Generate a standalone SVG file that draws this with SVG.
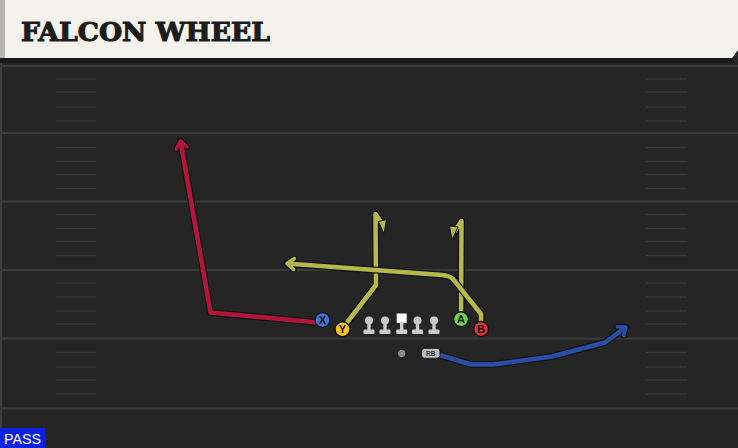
<svg xmlns="http://www.w3.org/2000/svg" width="738" height="448" viewBox="0 0 738 448">
<style>
.major{stroke:#3b3b3b;stroke-width:2}
.hash{stroke:#363636;stroke-width:1.5}
.outline{fill:none;stroke:#141414;stroke-width:7;stroke-linejoin:round;stroke-linecap:round}
.route{fill:none;stroke-width:4.5;stroke-linejoin:round;stroke-linecap:butt}
.red{stroke:#b3163b}
.yel{stroke:#b7b84b}
.blu{stroke:#2a4ea6}
.pc{stroke:#161616;stroke-width:1.5}
.pt{font-family:"Liberation Sans",Arial,sans-serif;font-weight:bold;font-size:11px;fill:#111;text-anchor:middle}
.ln{fill:#c9c9c9}
.flag{fill:#b7b84b;stroke:#141414;stroke-width:1;stroke-linejoin:round}
</style>
<defs>
<marker id="m-dark" markerUnits="userSpaceOnUse" viewBox="0 0 16 16" markerWidth="16" markerHeight="16" refX="12" refY="8" orient="auto"><path d="M5 2.5 L12 8 L5 13.5" fill="none" stroke="#141414" stroke-width="6" stroke-linejoin="round" stroke-linecap="round"/></marker>
<marker id="m-red" markerUnits="userSpaceOnUse" viewBox="0 0 16 16" markerWidth="16" markerHeight="16" refX="12" refY="8" orient="auto"><path d="M5 2.5 L12 8 L5 13.5" fill="none" stroke="#b3163b" stroke-width="3.5" stroke-linejoin="round" stroke-linecap="round"/></marker>
<marker id="m-yel" markerUnits="userSpaceOnUse" viewBox="0 0 16 16" markerWidth="16" markerHeight="16" refX="12" refY="8" orient="auto"><path d="M5 2.5 L12 8 L5 13.5" fill="none" stroke="#b7b84b" stroke-width="3.5" stroke-linejoin="round" stroke-linecap="round"/></marker>
<marker id="m-blu" markerUnits="userSpaceOnUse" viewBox="0 0 16 16" markerWidth="16" markerHeight="16" refX="12" refY="8" orient="auto"><path d="M5 2.5 L12 8 L5 13.5" fill="none" stroke="#2a4ea6" stroke-width="3.5" stroke-linejoin="round" stroke-linecap="round"/></marker>
<g id="lineman">
<circle cx="0" cy="320.5" r="4"/>
<rect x="-1.7" y="320" width="3.4" height="10"/>
<rect x="-5.5" y="329.5" width="11" height="4.5" rx="1"/>
</g>
</defs>

<!-- field -->
<rect x="0" y="0" width="738" height="448" fill="#252525"/>
<rect x="0" y="62" width="2" height="366" fill="#3d3d3d"/>
<g id="field-lines">
<line class="major" x1="0" y1="66" x2="738" y2="66"/>
<line class="major" x1="0" y1="133" x2="738" y2="133"/>
<line class="major" x1="0" y1="201.5" x2="738" y2="201.5"/>
<line class="major" x1="0" y1="270" x2="738" y2="270"/>
<line class="major" x1="0" y1="338.5" x2="738" y2="338.5"/>
<line class="major" x1="0" y1="408.5" x2="738" y2="408.5"/>
</g>
<g id="hashes">
<path class="hash" d="M56 79H96M56 92H96M56 107H96M56 121H96M56 147.5H96M56 161.5H96M56 174.5H96M56 188.5H96M56 214.5H96M56 228.5H96M56 241.5H96M56 255.5H96M56 283H96M56 297H96M56 311H96M56 324H96M56 352.5H96M56 367H96M56 380H96M56 394H96"/>
<path class="hash" d="M646 79H687M646 92H687M646 107H687M646 121H687M646 147.5H687M646 161.5H687M646 174.5H687M646 188.5H687M646 214.5H687M646 228.5H687M646 241.5H687M646 255.5H687M646 283H687M646 297H687M646 311H687M646 324H687M646 352.5H687M646 367H687M646 380H687M646 394H687"/>
</g>

<!-- header -->
<g id="header">
<rect x="0" y="57" width="734" height="6" fill="#1a1a1a"/>
<path d="M0 0 H738 V50 L732 58 H0 Z" fill="#f4f2ec"/>
<rect x="0" y="0" width="5" height="58" fill="#b4b4b0"/>
<text x="21" y="41" font-family="'DejaVu Serif','Liberation Serif',serif" font-weight="bold" font-size="26" fill="#1c1c1c" stroke="#1c1c1c" stroke-width="1.1" textLength="249" lengthAdjust="spacingAndGlyphs">FALCON WHEEL</text>
</g>

<!-- connectors -->
<g id="connectors">
<g id="route-x">
<path class="outline" d="M323 323 L210.5 312.5 L180.5 141" marker-end="url(#m-dark)"/>
<path class="route red" d="M323 323 L210.5 312.5 L180.5 141" marker-end="url(#m-red)"/>
</g>
<g id="route-y">
<path class="outline" d="M342 329 L376 285 L375.5 214 L383 225"/>
<path class="route yel" d="M342 329 L376 285 L375.5 214 L383 225"/>
<path class="flag" d="M378.5 221.5 L386.5 219.5 L384 234 Z"/>
</g>
<g id="route-a">
<path class="outline" d="M461 319 L461.5 221 L454 232"/>
<path class="route yel" d="M461 319 L461.5 221 L454 232"/>
<path class="flag" d="M458 227 L449.5 226 L452 240 Z"/>
</g>
<g id="route-b">
<path class="outline" d="M481 328 L481 314 L453 279 Q449 275.5 442 275 L287 263.5" marker-end="url(#m-dark)"/>
<path class="route yel" d="M481 328 L481 314 L453 279 Q449 275.5 442 275 L287 263.5" marker-end="url(#m-yel)"/>
</g>
<g id="route-rb">
<path class="outline" d="M440 355 L471 364.5 L493 364.5 L552 356.5 L605 342.5 L626 327" marker-end="url(#m-dark)"/>
<path class="route blu" d="M440 355 L471 364.5 L493 364.5 L552 356.5 L605 342.5 L626 327" marker-end="url(#m-blu)"/>
</g>
</g>

<!-- players -->
<g id="player-x"><circle class="pc" cx="322.5" cy="320" r="7.5" fill="#3f74d8"/><text class="pt" x="322.5" y="324">X</text></g>
<g id="player-y"><circle class="pc" cx="342.5" cy="329.3" r="7.5" fill="#f2c22c"/><text class="pt" x="342.5" y="333.3">Y</text></g>
<g id="lineman-lt" class="ln"><use href="#lineman" x="369"/></g>
<g id="lineman-lg" class="ln"><use href="#lineman" x="385"/></g>
<g id="center" fill="#cfcfcf">
<rect x="396.7" y="313.5" width="10" height="9.5" fill="#ffffff"/>
<rect x="400" y="322" width="3.4" height="8"/>
<rect x="396.2" y="329.5" width="11" height="4.5" rx="1"/>
</g>
<g id="lineman-rg" class="ln"><use href="#lineman" x="417.5"/></g>
<g id="lineman-rt" class="ln"><use href="#lineman" x="434"/></g>
<g id="player-a"><circle class="pc" cx="461" cy="319.3" r="7.5" fill="#6fd44a"/><text class="pt" x="461" y="323.3">A</text></g>
<g id="player-b"><circle class="pc" cx="481" cy="329" r="7.5" fill="#e2303d"/><text class="pt" x="481" y="333">B</text></g>
<g id="qb"><circle cx="401.7" cy="353.5" r="4.2" fill="#8a8a8a" stroke="#1a1a1a" stroke-width="1"/></g>
<g id="rb">
<rect x="421.5" y="348.3" width="18.5" height="10" rx="3" fill="#bdbdbd" stroke="#1a1a1a" stroke-width="1"/>
<text x="430.7" y="356" font-family="'Liberation Sans',Arial,sans-serif" font-weight="bold" font-size="6.5" fill="#2a2a2a" text-anchor="middle">RB</text>
</g>

<!-- play type -->
<g id="pass-label">
<rect x="0" y="428" width="45" height="20" fill="#0c22dc"/>
<text x="4" y="444" font-family="'Liberation Sans',Arial,sans-serif" font-size="14.5" fill="#ffffff" textLength="37" lengthAdjust="spacingAndGlyphs">PASS</text>
</g>
</svg>
